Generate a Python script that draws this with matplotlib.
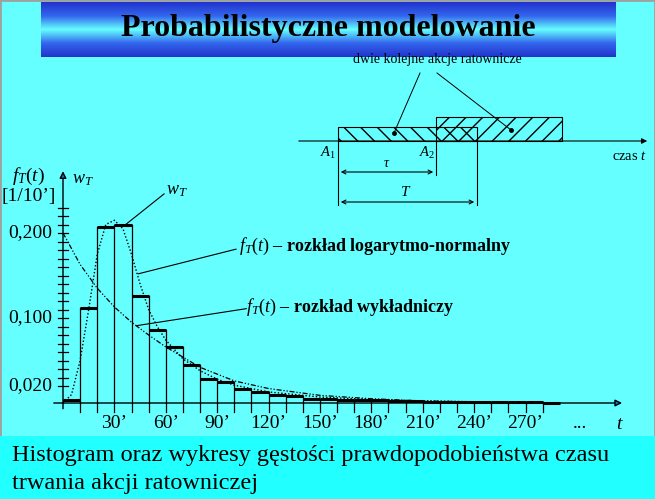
import numpy as np
import matplotlib
matplotlib.use("Agg")
import matplotlib.pyplot as plt
from matplotlib.colors import LinearSegmentedColormap
from matplotlib.patches import Rectangle

# ---- data ----
bin_edges = list(range(0, 300, 10))
hist_vals = [0.003, 0.112, 0.207, 0.209, 0.126, 0.0855, 0.066, 0.045, 0.028, 0.025,
             0.017, 0.013, 0.0098, 0.008, 0.005, 0.0045, 0.004, 0.003, 0.003, 0.002,
             0.002, 0.001, 0.001, 0.001, 0.001, 0.001, 0.001, 0.001, 0.0005]
exp_t = [0, 10, 20, 30, 40, 50, 60, 80, 100, 120, 150, 180, 210, 240, 270]
exp_f = [0.2, 0.163, 0.135, 0.113, 0.095, 0.08, 0.066, 0.042, 0.026, 0.017, 0.009, 0.005, 0.0025, 0.0013, 0.0007]
ln_t = [0, 5, 10, 15, 20, 25, 30, 35, 40, 45, 50, 55, 60, 70, 80, 90, 100, 120, 150, 180, 210, 240]
ln_f = [0, 0.01, 0.05, 0.11, 0.175, 0.21, 0.215, 0.205, 0.175, 0.14, 0.11, 0.09, 0.074, 0.052,
        0.038, 0.028, 0.021, 0.013, 0.007, 0.004, 0.0025, 0.0015]
xtick_vals = [30, 60, 90, 120, 150, 180, 210, 240, 270]
xtick_labels = ["30\u2019", "60\u2019", "90\u2019", "120\u2019", "150\u2019", "180\u2019", "210\u2019", "240\u2019", "270\u2019"]
ytick_vals = [0.200, 0.100, 0.020]
ytick_labels = ["0,200", "0,100", "0,020"]

SERIF = "Liberation Serif"
plt.rcParams["mathtext.fontset"] = "custom"
plt.rcParams["mathtext.rm"] = SERIF
plt.rcParams["mathtext.it"] = SERIF + ":italic"
plt.rcParams["mathtext.bf"] = SERIF + ":bold"
W, H = 655, 499
fig = plt.figure(figsize=(W / 100, H / 100), dpi=100, facecolor="#66ffff")

# overlay axes in pixel coordinates
ov = fig.add_axes([0, 0, 1, 1], zorder=0)
ov.set_xlim(0, W); ov.set_ylim(H, 0); ov.axis("off")
ov.add_patch(Rectangle((0, 0), W, H, facecolor="#66ffff", edgecolor="#a0a0a0", lw=2))
cmap = LinearSegmentedColormap.from_list("b", ["#2233cc", "#3366ee", "#66ffff", "#3366ee", "#2233cc"])
grad = np.linspace(0, 1, 100).reshape(-1, 1)
ov.imshow(grad, cmap=cmap, extent=(41, 616, 57, 2), aspect="auto", zorder=1)
ov.set_xlim(0, W); ov.set_ylim(H, 0)
ov.text(328, 28, "Probabilistyczne modelowanie", family=SERIF, weight="bold", fontsize=23,
        ha="center", va="center", zorder=2)
ov.add_patch(Rectangle((0, 436), W, 63, facecolor="#22ffff", edgecolor="none", zorder=1))
ov.text(12, 455, "Histogram oraz wykresy g\u0119sto\u015bci prawdopodobie\u0144stwa czasu",
        family=SERIF, fontsize=17.5, va="center", zorder=2)
ov.text(12, 484, "trwania akcji ratowniczej", family=SERIF, fontsize=17.5, va="center", zorder=2)

# diagram
ov.annotate("", xy=(650, 141), xytext=(296, 141),
            arrowprops=dict(arrowstyle="-|>", color="black", lw=0.8, mutation_scale=8), zorder=3)
ov.add_patch(Rectangle((338, 127), 139, 14, facecolor="none", edgecolor="black", lw=0.8, hatch="\\\\", zorder=3))
ov.add_patch(Rectangle((436, 117), 126, 24, facecolor="none", edgecolor="black", lw=0.8, hatch="//", zorder=3))
ov.plot([338, 338], [141, 205], color="black", lw=0.8, zorder=3)
ov.plot([436, 436], [141, 175], color="black", lw=0.8, zorder=3)
ov.plot([477, 477], [141, 205], color="black", lw=0.8, zorder=3)
ov.annotate("", xy=(338, 172), xytext=(436, 172), arrowprops=dict(arrowstyle="<->", lw=0.8, mutation_scale=7), zorder=3)
ov.annotate("", xy=(338, 202), xytext=(477, 202), arrowprops=dict(arrowstyle="<->", lw=0.8, mutation_scale=7), zorder=3)
ov.text(387, 163, r"$\tau$", fontsize=10, ha="center", va="center", zorder=3)
ov.text(406, 192, "$T$", fontsize=11, ha="center", va="center", zorder=3)
ov.text(328, 153, "$A_1$", fontsize=10.5, ha="center", va="center", zorder=3)
ov.text(427, 153, "$A_2$", fontsize=10.5, ha="center", va="center", zorder=3)
ov.text(612, 157, "czas $t$", family=SERIF, fontsize=10.5, ha="left", va="center", zorder=3)
ov.text(437, 59, "dwie kolejne akcje ratownicze", family=SERIF, fontsize=10, ha="center", va="center", zorder=3)
ov.plot([420, 394], [73, 133], color="black", lw=0.7, zorder=3)
ov.plot([437, 511], [73, 130], color="black", lw=0.7, zorder=3)
ov.plot([394, 511], [133, 130], "o", color="black", ms=2.5, zorder=3)

# histogram axes (data coords mapped to pixels)
ax = fig.add_axes([0, 0, 1, 1], zorder=1)
ax.patch.set_alpha(0)
ax.axis("off")
x0, sx = 63, 1.713
y0, sy = 403, 850
ax.set_xlim(-x0 / sx, (W - x0) / sx)
ax.set_ylim((y0 - H) / sy, y0 / sy)

for i, v in enumerate(hist_vals):
    l = bin_edges[i]
    ax.plot([l, l + 10], [v, v], color="black", lw=2.2, solid_capstyle="butt")
    ax.plot([l, l], [0, max(v, hist_vals[i - 1] if i > 0 else v)], color="black", lw=0.9)
ax.plot([290, 290], [0, hist_vals[-1]], color="black", lw=0.9)
ax.plot(ln_t, ln_f, color="black", lw=1.0, ls=(0, (1, 1.5)))
ax.plot(exp_t, exp_f, color="black", lw=0.9, ls=(0, (4, 1.5, 1, 1.5, 1, 1.5)))

# axes lines
ax.annotate("", xy=(328, 0), xytext=(-7, 0), arrowprops=dict(arrowstyle="-|>", lw=1, mutation_scale=10))
ax.annotate("", xy=(0, 0.276), xytext=(0, -0.01), arrowprops=dict(arrowstyle="-|>", lw=1, mutation_scale=10))
for t in range(10, 290, 10):
    ax.plot([t, t], [0, -0.01], color="black", lw=0.9)
for v in np.arange(0.02, 0.235, 0.01):
    ax.plot([-3, 3], [v, v], color="black", lw=0.9)
for v, s in zip(xtick_vals, xtick_labels):
    ax.text(v, -0.024, s, family=SERIF, fontsize=14, ha="center", va="center")
ax.text(302, -0.024, "...", family=SERIF, fontsize=14, ha="center", va="center")
ax.text(325, -0.024, "$t$", fontsize=14, ha="center", va="center")
for v, s in zip(ytick_vals, ytick_labels):
    ax.text(-6, v, s, family=SERIF, fontsize=14, ha="right", va="center")
ax.text(-20, 0.266, "$f_T(t)$", fontsize=14, ha="center", va="center")
ax.text(-20, 0.243, "[1/10\u2019]", family=SERIF, fontsize=14, ha="center", va="center")
ax.text(5, 0.264, "$w_T$", fontsize=13, ha="left", va="center")

ax.plot([36, 59], [0.209, 0.246], color="black", lw=0.8)
ax.text(60, 0.25, "$w_T$", fontsize=13, ha="left", va="center")
ax.plot([44, 101], [0.152, 0.181], color="black", lw=0.8)
ax.text(103, 0.184, "$f_T(t)$ \u2013 rozk\u0142ad logarytmo-normalny",
        family=SERIF, weight="bold", fontsize=13, ha="left", va="center")
ax.plot([43, 107], [0.091, 0.111], color="black", lw=0.8)
ax.text(107, 0.113, "$f_T(t)$ \u2013 rozk\u0142ad wyk\u0142adniczy", family=SERIF, weight="bold",
        fontsize=13, ha="left", va="center")

fig.savefig("out.png", dpi=100, facecolor=fig.get_facecolor())
